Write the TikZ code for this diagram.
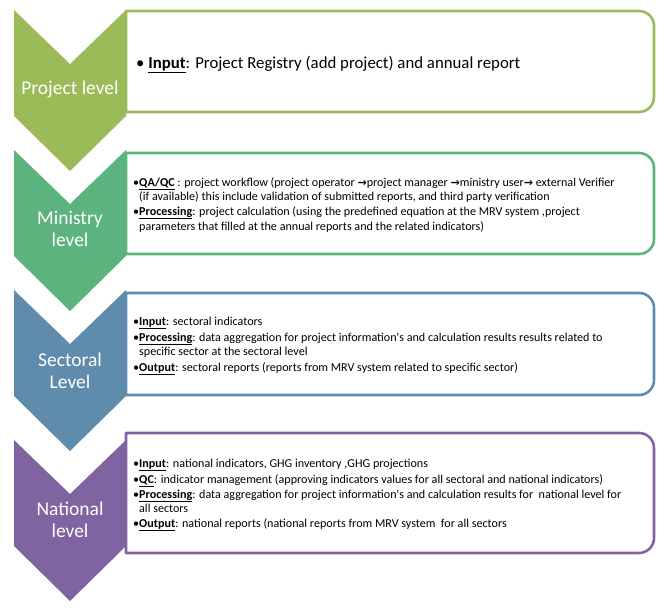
\documentclass[tikz,border=0pt]{standalone}
\usepackage{fontspec}
\setmainfont{Carlito}
\newfontfamily\arrowfont{DejaVu Sans}

\definecolor{levelA}{RGB}{155,187,89}
\definecolor{levelB}{RGB}{92,179,125}
\definecolor{levelC}{RGB}{95,140,173}
\definecolor{levelD}{RGB}{128,100,162}

% bold underlined heading inside a bullet
\newcommand{\hd}[1]{\underline{\textbf{#1}}}
% arrow used in the workflow line
\newcommand{\rarr}{{\arrowfont\fontsize{11}{11}\selectfont\textbf{→}}}
% bullet followed directly by the text
\newcommand{\bul}{\makebox[6pt][l]{\textbullet}}

\begin{document}
\begin{tikzpicture}[x=1pt,y=-1pt,
  levelbox/.style={draw=#1, line width=2.6pt, fill=white, line join=round},
  chevron/.style={fill=#1, draw=none},
  levellabel/.style={text=white, font=\fontsize{19.5}{22.5}\selectfont, align=center, inner sep=0pt},
  bodyline/.style={anchor=base west, inner sep=0pt, font=\fontsize{12.1}{14}\selectfont},
  bigline/.style={anchor=base west, inner sep=0pt, font=\fontsize{16.8}{19}\selectfont}]
\useasboundingbox (0,0) rectangle (668,608);

% text boxes: square on the left, rounded on the right
\foreach \t/\b/\c in {11/112/levelA, 153/254/levelB, 293/395/levelC, 433/553/levelD}{
  \draw[levelbox=\c] (126,\b) -- (126,\t) -- (639,\t)
    arc[start angle=-90, end angle=0, radius=15] -- (654,\b-15)
    arc[start angle=0, end angle=90, radius=15] -- cycle;
}

% downward chevrons
\foreach \t/\c in {10/levelA, 150/levelB, 290/levelC, 440/levelD}{
  \fill[chevron=\c] (14,\t) -- (70,\t+54) -- (126,\t) -- (126,\t+106)
    -- (70,\t+161) -- (14,\t+106) -- cycle;
}

% chevron labels
\node[levellabel] (labA) at (70,89) {Project level};
\node[levellabel] (labB) at (70,229) {Ministry\\level};
\node[levellabel] (labC) at (70,371) {Sectoral\\Level};
\node[levellabel] (labD) at (70,520) {National\\level};

% project level
\node[bigline] (a1) at (136,68) {\textbullet\ \hd{Input}: Project Registry (add project) and annual report};

% ministry level
\node[bodyline] (b1) at (133,186) {\bul\hd{QA/QC} : project workflow (project operator \rarr project manager \rarr ministry user\rarr\ external Verifier};
\node[bodyline] (b2) at (139,200) {(if available) this include validation of submitted reports, and third party verification};
\node[bodyline] (b3) at (133,215) {\bul\hd{Processing}: project calculation (using the predefined equation at the MRV system ,project};
\node[bodyline] (b4) at (139,230) {parameters that filled at the annual reports and the related indicators)};

% sectoral level
\node[bodyline] (c1) at (133,325) {\bul\hd{Input}: sectoral indicators};
\node[bodyline] (c2) at (133,341) {\bul\hd{Processing}: data aggregation for project information\textquotesingle s and calculation results results related to};
\node[bodyline] (c3) at (139,355) {specific sector at the sectoral level};
\node[bodyline] (c4) at (133,371) {\bul\hd{Output}: sectoral reports (reports from MRV system related to specific sector)};

% national level
\node[bodyline] (d1) at (133,467) {\bul\hd{Input}: national indicators, GHG inventory ,GHG projections};
\node[bodyline] (d2) at (133,483) {\bul\hd{QC}: indicator management (approving indicators values for all sectoral and national indicators)};
\node[bodyline] (d3) at (133,498) {\bul\hd{Processing}: data aggregation for project information\textquotesingle s and calculation results for \ national level for};
\node[bodyline] (d4) at (139,512) {all sectors};
\node[bodyline] (d5) at (133,527) {\bul\hd{Output}: national reports (national reports from MRV system \ for all sectors};
\end{tikzpicture}
\end{document}
